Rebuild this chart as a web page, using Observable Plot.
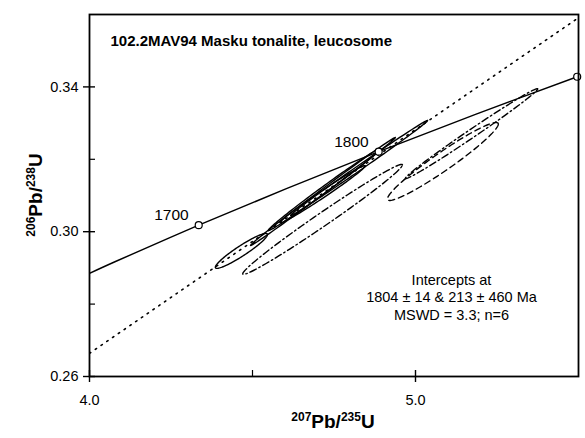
<!DOCTYPE html>
<html>
<head>
<meta charset="utf-8">
<script src="https://cdn.jsdelivr.net/npm/d3@7"></script>
<script src="https://cdn.jsdelivr.net/npm/@observablehq/plot@0.6"></script>
<style>
  html, body { margin: 0; padding: 0; background: white; }
  #chart { width: 585px; height: 438px; }
</style>
</head>
<body>
<div id="chart"></div>
<script>
// ---- data ----
const titleText = "102.2MAV94 Masku tonalite, leucosome";
const interceptLines = ["Intercepts at", "1804 ± 14 & 213 ± 460 Ma", "MSWD = 3.3; n=6"];

const xTicksMajor = [4.0, 5.0];
const xTicksMinor = [4.5];
const yTicksMajor = [0.26, 0.30, 0.34];
const yTicksMinor = [0.28, 0.32];

// concordia curve (age in Ma, 207Pb/235U, 206Pb/238U)
const conAge = [1634, 1650, 1700, 1750, 1800, 1850, 1900, 1901];
const conX   = [4.000, 4.078, 4.335, 4.604, 4.887, 5.184, 5.496, 5.500];
const conY   = [0.2885, 0.2917, 0.3018, 0.3119, 0.3221, 0.3324, 0.3428, 0.3429];

// age markers
const markAge = [1700, 1800, 1900];
const markX   = [4.335, 4.887, 5.496];
const markY   = [0.3018, 0.3221, 0.3428];
const markLabel = ["1700", "1800", ""];

// discordia (dotted) end points
const discX = [4.0, 5.5];
const discY = [0.2664, 0.3591];

// error ellipses: centre, half-extents, correlation, line style
const ellCx  = [4.466, 4.716, 4.721, 4.827, 4.716, 4.715, 5.084, 5.172];
const ellCy  = [0.2947, 0.3111, 0.3117, 0.3176, 0.3104, 0.3034, 0.3194, 0.3271];
const ellSx  = [0.080, 0.222, 0.172, 0.210, 0.130, 0.245, 0.170, 0.203];
const ellSy  = [0.00483, 0.01492, 0.01133, 0.01312, 0.00787, 0.01519, 0.01077, 0.01243];
const ellRho = [0.939, 0.9985, 0.9952, 0.998, 0.990, 0.9894, 0.9594, 0.9938];
const ellStyle = ["solid", "solid", "solid", "solid", "solid", "dashdot", "dashed", "dashdot"];

// ---- build tables ----
const concordia = conAge.map((a, i) => ({age: a, x: conX[i], y: conY[i]}));
const markers = markAge.map((a, i) => ({age: a, x: markX[i], y: markY[i], label: markLabel[i]}));
const discordia = discX.map((x, i) => ({x, y: discY[i]}));

function outline(i) {
  const pts = [];
  const n = 120;
  const k = Math.sqrt(1 - ellRho[i] * ellRho[i]);
  for (let j = 0; j <= n; j++) {
    const t = (2 * Math.PI * j) / n;
    pts.push({
      id: i,
      style: ellStyle[i],
      x: ellCx[i] + ellSx[i] * Math.cos(t),
      y: ellCy[i] + ellSy[i] * (ellRho[i] * Math.cos(t) + k * Math.sin(t))
    });
  }
  return pts;
}
const ellPts = ellCx.flatMap((_, i) => outline(i));
const byStyle = s => ellPts.filter(d => d.style === s);

const font = "'Liberation Sans', Arial, Helvetica, sans-serif";
const plotW = 585 - 89 - 7;   // inner width in px
const plotH = 438 - 14 - 62;  // inner height in px

const chart = Plot.plot({
  width: 585,
  height: 438,
  marginLeft: 89,
  marginRight: 7,
  marginTop: 14,
  marginBottom: 62,
  x: {domain: [4.0, 5.5], ticks: xTicksMajor, tickSize: 0, tickPadding: 18,
      tickFormat: d3.format(".1f"), label: null},
  y: {domain: [0.26, 0.36], ticks: yTicksMajor, tickSize: 0, tickPadding: 11,
      tickFormat: d3.format(".2f"), label: null},
  style: {fontFamily: font, fontSize: "14.5px", color: "black", background: "white"},
  marks: [
    // discordia
    Plot.line(discordia, {x: "x", y: "y", stroke: "black", strokeWidth: 1.6,
      strokeDasharray: "1.5,5.5", strokeLinecap: "round", clip: true}),
    // ellipses
    Plot.line(byStyle("solid"), {x: "x", y: "y", z: "id", stroke: "black", strokeWidth: 1.4, clip: true}),
    Plot.line(byStyle("dashed"), {x: "x", y: "y", z: "id", stroke: "black", strokeWidth: 1.4,
      strokeDasharray: "6,4", clip: true}),
    Plot.line(byStyle("dashdot"), {x: "x", y: "y", z: "id", stroke: "black", strokeWidth: 1.4,
      strokeDasharray: "7,3,1.5,3", clip: true}),
    // concordia
    Plot.line(concordia, {x: "x", y: "y", stroke: "black", strokeWidth: 1.4, curve: "catmull-rom", clip: true}),
    Plot.dot(markers, {x: "x", y: "y", r: 3.5, fill: "white", stroke: "black", strokeWidth: 1.2}),
    Plot.text(markers, {x: "x", y: "y", text: "label", textAnchor: "end", dx: -10, dy: -10,
      fontSize: 15.5, fill: "black"}),
    // frame
    Plot.frame({stroke: "black", strokeWidth: 1.8}),
    // ticks: major cross the axis, minor point inward
    Plot.ruleX(xTicksMajor, {x: d => d, insetTop: plotH - 6, insetBottom: -6, stroke: "black", strokeWidth: 1.4}),
    Plot.ruleX(xTicksMinor, {x: d => d, insetTop: plotH - 6, insetBottom: 0, stroke: "black", strokeWidth: 1.2}),
    Plot.ruleY(yTicksMajor, {y: d => d, insetLeft: -6, insetRight: plotW - 6, stroke: "black", strokeWidth: 1.4}),
    Plot.ruleY(yTicksMinor, {y: d => d, insetLeft: 0, insetRight: plotW - 6, stroke: "black", strokeWidth: 1.2}),
    // title inside the frame
    Plot.text([titleText], {frameAnchor: "top-left", dx: 21, dy: 21, lineAnchor: "top",
      textAnchor: "start", fontWeight: "bold", fontSize: 15, fill: "black"}),
    // intercept annotation
    Plot.text([interceptLines.join("\n")], {frameAnchor: "top-left", dx: 362, dy: 258,
      lineAnchor: "top", textAnchor: "middle", lineHeight: 1.2, fontSize: 14.5, fill: "black"})
  ]
});

document.getElementById("chart").appendChild(chart);

// axis titles with superscripts
const svg = d3.select(chart);
function richTitle(sel, parts) {
  let shifted = false;
  parts.forEach(p => {
    const t = sel.append("tspan").text(p.t);
    if (p.sup) {
      t.attr("font-size", "12px");
      if (!shifted) { t.attr("dy", "-7"); shifted = true; }
    } else if (shifted) {
      t.attr("dy", "7"); shifted = false;
    }
  });
}
const xt = svg.append("text")
  .attr("x", 333).attr("y", 428)
  .attr("text-anchor", "middle")
  .attr("font-family", font).attr("font-weight", "bold").attr("font-size", "19px")
  .attr("fill", "black");
richTitle(xt, [{t: "207", sup: true}, {t: "Pb/"}, {t: "235", sup: true}, {t: "U"}]);

const yt = svg.append("text")
  .attr("transform", "translate(42,195) rotate(-90)")
  .attr("text-anchor", "middle")
  .attr("font-family", font).attr("font-weight", "bold").attr("font-size", "19px")
  .attr("fill", "black");
richTitle(yt, [{t: "206", sup: true}, {t: "Pb/"}, {t: "238", sup: true}, {t: "U"}]);
</script>
</body>
</html>
